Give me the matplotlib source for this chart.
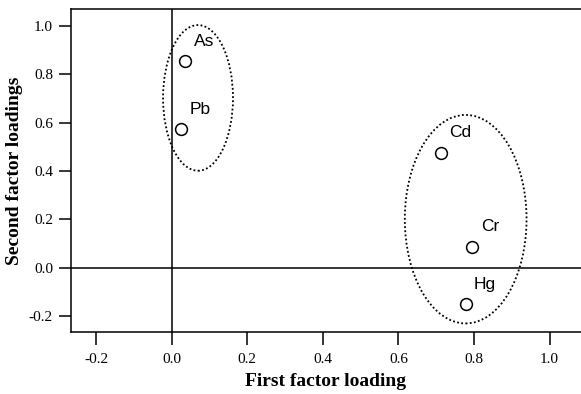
import matplotlib.pyplot as plt
from matplotlib.patches import Ellipse

elements = ["As", "Pb", "Cd", "Cr", "Hg"]
first_loading = [0.035, 0.026, 0.714, 0.794, 0.779]
second_loading = [0.855, 0.573, 0.476, 0.087, -0.152]

# groups circled on the plot: centre x, centre y, width, height
group_centres = [(0.070, 0.703), (0.778, 0.201)]
group_sizes = [(0.185, 0.603), (0.322, 0.863)]

x_ticks = [-0.2, 0.0, 0.2, 0.4, 0.6, 0.8, 1.0]
y_ticks = [-0.2, 0.0, 0.2, 0.4, 0.6, 0.8, 1.0]

serif = ["Liberation Serif", "DejaVu Serif"]

fig = plt.figure(figsize=(5.81, 3.94), dpi=100)
ax = fig.add_axes([71 / 581, 62 / 394, 510 / 581, 323 / 394])

ax.axhline(0, color="black", lw=1.1, zorder=1)
ax.axvline(0, color="black", lw=1.1, zorder=1)

for (cx, cy), (w, h) in zip(group_centres, group_sizes):
    ax.add_patch(Ellipse((cx, cy), w, h, fill=False, ls=(0, (1, 1.3)),
                         lw=1.3, ec="black", zorder=2))

ax.plot(first_loading, second_loading, "o", ms=8.5, mfc="white",
        mec="black", mew=1.1, zorder=3)
for name, x, y in zip(elements, first_loading, second_loading):
    ax.annotate(name, (x, y), xytext=(19, 20), textcoords="offset pixels",
                ha="center", va="center", fontsize=12.5,
                family="Liberation Sans")

ax.set_xlim(-0.266, 1.083)
ax.set_ylim(-0.266, 1.071)
ax.set_xticks(x_ticks)
ax.set_yticks(y_ticks)
ax.set_xticklabels([f"{v:.1f}" for v in x_ticks], family=serif, fontsize=11)
ax.set_yticklabels([f"{v:.1f}" for v in y_ticks], family=serif, fontsize=11)
ax.tick_params(direction="out", length=9, width=1.1, pad=4)
ax.tick_params(axis="x", pad=6)
ax.spines["right"].set_visible(False)
for s in ("left", "bottom", "top"):
    ax.spines[s].set_linewidth(1.1)

ax.set_xlabel("First factor loading", family=serif, fontweight="bold",
              fontsize=14, labelpad=5)
ax.set_ylabel("Second factor loadings", family=serif, fontweight="bold",
              fontsize=14, labelpad=4)

fig.savefig("out.png", dpi=100)
plt.close(fig)
